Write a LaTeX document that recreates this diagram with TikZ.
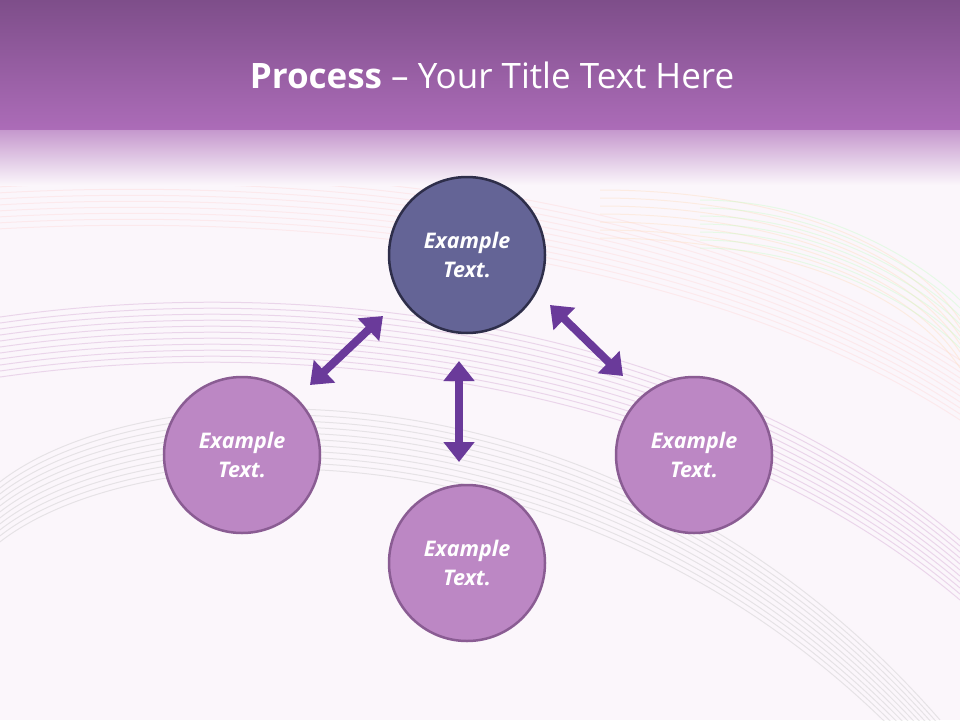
\documentclass[tikz,border=0pt]{standalone}
\usepackage{fontspec}
\setmainfont{Open Sans}
\usetikzlibrary{arrows.meta}
\definecolor{bg}{HTML}{FBF6FB}
\definecolor{barA}{HTML}{7E4E8A}
\definecolor{barB}{HTML}{AC6CB8}
\definecolor{topc}{HTML}{646496}
\definecolor{topb}{HTML}{2E2E4A}
\definecolor{cfill}{HTML}{BC87C4}
\definecolor{cbord}{HTML}{8A5C93}
\definecolor{arr}{HTML}{6A3A9A}
\tikzset{
  circ/.style={circle,minimum size=156pt,line width=2.5pt,draw=cbord,fill=cfill,
    text=white,font=\fontsize{21.5}{29}\selectfont\bfseries\itshape,align=center},
  dbl/.style={arr,line width=8pt,{Triangle[length=20pt,width=30pt]}-{Triangle[length=20pt,width=30pt]}},
  swoosh/.style={line width=1pt,opacity=0.35}
}
\begin{document}
\begin{tikzpicture}[x=1pt,y=-1pt]
\useasboundingbox (0,0) rectangle (960,720);
\fill[bg] (0,0) rectangle (960,720);
% faint swooshes
\foreach \d in {0,6,...,60}{
  \draw[swoosh,color=violet!40] (-20,320+\d) .. controls (300,270+\d) and (700,320+\d) .. (960,540+\d);
  \draw[swoosh,color=gray!50] (-20,500+\d) .. controls (100,370+\d) and (600,330+\d) .. (940,720+\d);
  \draw[swoosh,color=pink!70] (-20,170+\d) .. controls (300,150+\d) and (700,190+\d) .. (960,360+\d);
}
\foreach \d in {0,8,...,48}{
  \draw[swoosh,color=orange!30] (600,190+\d) .. controls (750,190+\d) and (900,230+\d) .. (960,320+\d);
  \draw[swoosh,color=green!25] (700,200+\d) .. controls (820,200+\d) and (920,260+\d) .. (960,300+\d);
}
\shade[top color=barA,bottom color=barB] (0,0) rectangle (960,130);
\shade[top color=barB!70,bottom color=bg] (0,130) rectangle (960,185);
\node[text=white,font=\fontsize{35}{42}\selectfont] (title) at (492,75) {\textbf{Process} -- Your Title Text Here};
\node[circ,draw=topb,fill=topc] (t) at (467,255) {Example\\Text.};
\node[circ] (l) at (242,455) {Example\\Text.};
\node[circ] (r) at (694,455) {Example\\Text.};
\node[circ] (b) at (467,563) {Example\\Text.};
\coordinate (a1) at (310,385); \coordinate (a2) at (383,316);
\coordinate (b1) at (550,305); \coordinate (b2) at (623,376);
\coordinate (c1) at (459,361); \coordinate (c2) at (459,462);
\draw[dbl] (a1) -- (a2);
\draw[dbl] (b1) -- (b2);
\draw[dbl] (c1) -- (c2);
\end{tikzpicture}
\end{document}
